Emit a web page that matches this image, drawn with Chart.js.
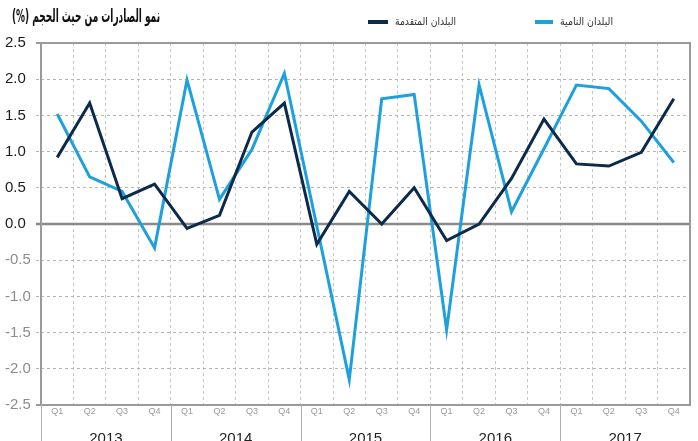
<!DOCTYPE html>
<html>
<head>
<meta charset="utf-8">
<script src="https://cdn.jsdelivr.net/npm/chart.js@4.4.1/dist/chart.umd.min.js"></script>
<style>
  body { margin: 0; background: #fff; }
  canvas { display: block; }
</style>
</head>
<body>
<canvas id="exportsChart" width="698" height="441"></canvas>
<script>
const quarters = ["Q1", "Q2", "Q3", "Q4"];
const years = ["2013", "2014", "2015", "2016", "2017"];
const advanced = [0.92, 1.67, 0.35, 0.55, -0.06, 0.12, 1.27, 1.67, -0.28, 0.45, 0.0, 0.5, -0.23, 0.0, 0.63, 1.45, 0.83, 0.80, 0.99, 1.73];
const emerging = [1.52, 0.65, 0.45, -0.33, 1.99, 0.34, 1.03, 2.08, -0.03, -2.15, 1.73, 1.79, -1.46, 1.92, 0.17, 1.04, 1.92, 1.87, 1.42, 0.85];

const titleText = "نمو الصادرات من حيث الحجم (%)";
const advancedLabel = "البلدان المتقدمة";
const emergingLabel = "البلدان النامية";

const labels = [];
years.forEach(y => quarters.forEach(q => labels.push(q)));

const arabicFont = "'DejaVu Sans', 'Noto Sans', sans-serif";

// title, legend, frame, zero line and the year row under the axis
const decorations = {
    id: "decorations",
    beforeDatasetsDraw(chart) {
        const { ctx, chartArea: a, scales } = chart;
        const y0 = scales.y.getPixelForValue(0);
        ctx.save();
        ctx.strokeStyle = "#8a8a8a";
        ctx.lineWidth = 2.5;
        ctx.beginPath();
        ctx.moveTo(a.left - 5, y0);
        ctx.lineTo(a.right, y0);
        ctx.stroke();
        ctx.restore();
    },
    afterDraw(chart) {
        const { ctx, chartArea: a } = chart;
        ctx.save();

        // frame
        ctx.strokeStyle = "#9a9a9a";
        ctx.lineWidth = 2;
        ctx.strokeRect(a.left, a.top, a.right - a.left, a.bottom - a.top);
        ctx.beginPath();
        ctx.moveTo(a.left - 5, a.bottom);
        ctx.lineTo(a.left, a.bottom);
        ctx.moveTo(a.left - 5, a.top);
        ctx.lineTo(a.left, a.top);
        ctx.stroke();

        // year separators and labels
        const band = (a.right - a.left) / labels.length;
        ctx.strokeStyle = "#b0b0b0";
        ctx.lineWidth = 1;
        ctx.fillStyle = "#222";
        ctx.font = "15px 'Liberation Sans', Arial, sans-serif";
        ctx.textAlign = "center";
        ctx.textBaseline = "middle";
        years.forEach((yr, i) => {
            const x = a.left + i * 4 * band;
            ctx.beginPath();
            ctx.moveTo(Math.round(x) + 0.5, a.bottom);
            ctx.lineTo(Math.round(x) + 0.5, chart.height);
            ctx.stroke();
            ctx.fillText(yr, x + 2 * band, 439);
        });

        // title
        ctx.direction = "rtl";
        ctx.textAlign = "right";
        ctx.fillStyle = "#111";
        ctx.font = "bold 18px " + arabicFont;
        ctx.fillText(titleText, 160, 17, 148);

        // legend
        ctx.font = "11px " + arabicFont;
        ctx.fillStyle = "#333";
        ctx.fillText(advancedLabel, 456, 22, 61);
        ctx.fillText(emergingLabel, 613, 22, 53);
        ctx.lineWidth = 4;
        ctx.strokeStyle = "#0c2a4a";
        ctx.beginPath();
        ctx.moveTo(368, 22);
        ctx.lineTo(388, 22);
        ctx.stroke();
        ctx.strokeStyle = "#1ea0dc";
        ctx.beginPath();
        ctx.moveTo(535, 22);
        ctx.lineTo(553, 22);
        ctx.stroke();
        ctx.restore();
    }
};

new Chart(document.getElementById("exportsChart"), {
    type: "line",
    data: {
        labels: labels,
        datasets: [
            {
                label: advancedLabel,
                data: advanced,
                borderColor: "#0c2a4a",
                borderWidth: 3,
                pointRadius: 0,
                tension: 0
            },
            {
                label: emergingLabel,
                data: emerging,
                borderColor: "#1ea0dc",
                borderWidth: 3,
                pointRadius: 0,
                tension: 0
            }
        ]
    },
    options: {
        responsive: false,
        animation: false,
        devicePixelRatio: 1,
        layout: { padding: { left: 5, top: 43, right: 8, bottom: 0 } },
        plugins: {
            legend: { display: false },
            tooltip: { enabled: false }
        },
        scales: {
            x: {
                offset: true,
                afterFit: s => { s.height = 36; },
                grid: {
                    offset: true,
                    color: "#c4c4c4",
                    drawTicks: false
                },
                border: { display: false, dash: [3, 3] },
                ticks: {
                    color: "#9a9a9a",
                    font: { size: 9, family: "'Liberation Sans', Arial, sans-serif" },
                    padding: 1,
                    maxRotation: 0,
                    autoSkip: false
                }
            },
            y: {
                min: -2.5,
                max: 2.5,
                afterFit: s => { s.width = 36; },
                grid: {
                    color: "#b4b4b4",
                    tickLength: 5,
                    tickColor: "#b4b4b4",
                    tickBorderDash: [3, 3]
                },
                border: { display: false, dash: [3, 3] },
                ticks: {
                    stepSize: 0.5,
                    crossAlign: "far",
                    padding: 4,
                    font: { size: 15, family: "'Liberation Sans', Arial, sans-serif" },
                    color: ctx => ctx.tick && ctx.tick.value < 0 ? "#8c8c8c" : "#1a1a1a",
                    callback: v => Number(v).toFixed(1)
                }
            }
        }
    },
    plugins: [decorations]
});
</script>
</body>
</html>
